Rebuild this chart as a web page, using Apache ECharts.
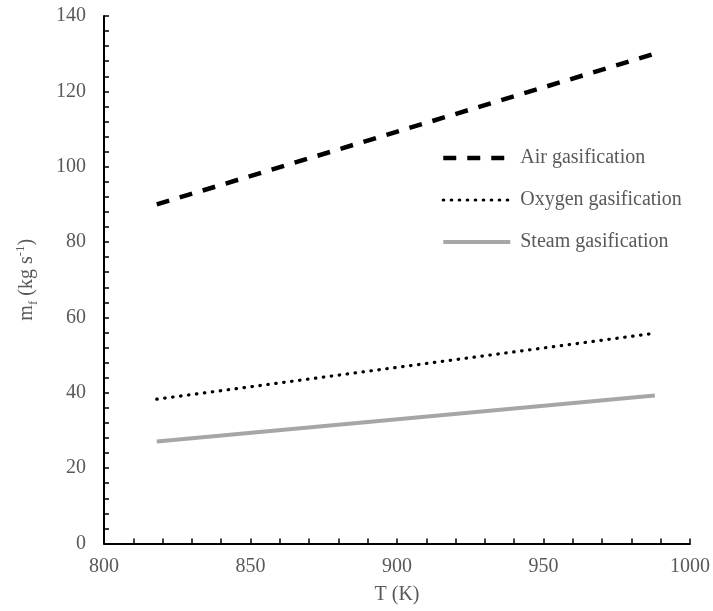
<!DOCTYPE html>
<html>
<head>
<meta charset="utf-8">
<script src="https://cdn.jsdelivr.net/npm/echarts@6/dist/echarts.min.js"></script>
<style>
  html, body { margin: 0; padding: 0; background: #ffffff; }
  #chart { width: 713px; height: 611px; }
</style>
</head>
<body>
<div id="chart"></div>
<script>
// Gasifier temperature (K)
var temperature = [818, 988];
// Fuel mass flow rate m_f (kg s^-1) for each gasifying agent
var airGasification = [90, 130];
var oxygenGasification = [38.3, 55.8];
var steamGasification = [27.1, 39.3];

var seriesNames = ['Air gasification', 'Oxygen gasification', 'Steam gasification'];

var FONT = '"Liberation Serif", "Times New Roman", serif';
var TEXT_GRAY = '#595959';

// Line looks shared by each series and its legend sample
var lineLooks = [
  { color: '#000000', width: 4.5, type: [13, 11], cap: 'butt' },
  { color: '#000000', width: 3.2, type: [0.5, 7.5], cap: 'round' },
  { color: '#a6a6a6', width: 4, type: 'solid', cap: 'butt' }
];

function pairs(xs, ys) {
  return xs.map(function (x, i) { return [x, ys[i]]; });
}

var seriesValues = [airGasification, oxygenGasification, steamGasification];

var chart = echarts.init(document.getElementById('chart'), null, { renderer: 'canvas' });

chart.setOption({
  animation: false,
  backgroundColor: '#ffffff',
  textStyle: { fontFamily: FONT },
  grid: { left: 104, right: 23, top: 16, bottom: 67.5, containLabel: false },
  legend: {
    orient: 'vertical',
    left: 441,
    top: 148,
    padding: 0,
    itemWidth: 67,
    itemHeight: 20,
    itemGap: 22,
    itemStyle: { opacity: 0 },
    data: seriesNames.map(function (n, i) {
      return { name: n, lineStyle: lineLooks[i] };
    }),
    textStyle: { fontFamily: FONT, fontSize: 20, color: TEXT_GRAY, padding: [0, 0, 0, 5] }
  },
  xAxis: {
    type: 'value',
    min: 800,
    max: 1000,
    interval: 50,
    name: 'T (K)',
    nameLocation: 'middle',
    nameGap: 41,
    nameTextStyle: { fontFamily: FONT, fontSize: 20, color: TEXT_GRAY },
    axisLine: { show: true, onZero: false, lineStyle: { color: '#000000', width: 2 } },
    axisTick: { show: true, inside: true, length: 5, lineStyle: { color: '#000000', width: 1.5 } },
    minorTick: { show: true, splitNumber: 5, length: 5, lineStyle: { color: '#000000', width: 1.5 } },
    axisLabel: {
      fontFamily: FONT, fontSize: 20, color: TEXT_GRAY, margin: 13,
      formatter: function (v) { return String(v); }
    },
    splitLine: { show: false },
    minorSplitLine: { show: false }
  },
  yAxis: {
    type: 'value',
    min: 0,
    max: 140,
    interval: 20,
    name: '{a|m}{sub|f}{a| (kg s}{sup|-1}{a|)}',
    nameLocation: 'middle',
    nameGap: 64,
    nameTextStyle: {
      fontFamily: FONT,
      color: TEXT_GRAY,
      rich: {
        a: { fontFamily: FONT, fontSize: 20, color: TEXT_GRAY, lineHeight: 26 },
        sub: { fontFamily: FONT, fontSize: 13, color: TEXT_GRAY, lineHeight: 12, verticalAlign: 'bottom' },
        sup: { fontFamily: FONT, fontSize: 13, color: TEXT_GRAY, lineHeight: 13, verticalAlign: 'top' }
      }
    },
    axisLine: { show: true, onZero: false, lineStyle: { color: '#000000', width: 2 } },
    axisTick: { show: true, inside: true, length: 5, lineStyle: { color: '#000000', width: 1.5 } },
    minorTick: { show: true, splitNumber: 5, length: 5, lineStyle: { color: '#000000', width: 1.5 } },
    axisLabel: { fontFamily: FONT, fontSize: 20, color: TEXT_GRAY, margin: 18 },
    splitLine: { show: false },
    minorSplitLine: { show: false }
  },
  series: seriesNames.map(function (n, i) {
    return {
      name: n,
      type: 'line',
      data: pairs(temperature, seriesValues[i]),
      symbol: 'none',
      showSymbol: false,
      color: lineLooks[i].color,
      lineStyle: lineLooks[i]
    };
  })
});
</script>
</body>
</html>
